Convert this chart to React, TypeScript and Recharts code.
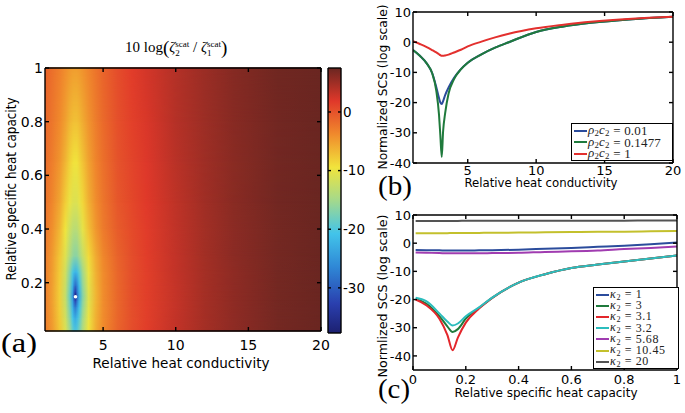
import React from 'react';
import { ComposedChart, LineChart, Line, XAxis, YAxis, ReferenceArea, Scatter, Legend } from 'recharts';

const PAGE_W = 685;
const PAGE_H = 413;
const SANS = '"DejaVu Sans", "Liberation Sans", sans-serif';
const SERIF = '"Liberation Serif", "DejaVu Serif", serif';

/* ---------------- (a) map: 10 log(z2/z1) over (kappa, rho c) ---------------- */
const mapKappa = [1, 1.5, 2, 2.4, 2.7, 2.9, 3.0, 3.1, 3.2, 3.35, 3.6, 4, 4.5, 5, 6, 7, 8, 10, 12, 14, 17, 20];
const mapRhoC = [0.02, 0.07, 0.11, 0.135, 0.15, 0.165, 0.19, 0.24, 0.3, 0.4, 0.5, 0.65, 0.8, 1.0];
const mapAt002 = [-2.8, -4.8, -7.5, -11, -15, -18.5, -19.8, -20, -19.6, -17.5, -14, -9.5, -6, -3.8, -1.2, 0.4, 1.5, 3.3, 4.7, 5.8, 7.0, 8.0];
const mapAt007 = [-2.9, -5, -7.8, -11.8, -16.5, -20.5, -22.5, -23, -22, -19.5, -15, -10, -6.2, -3.9, -1.3, 0.3, 1.4, 3.3, 4.7, 5.8, 7.0, 8.0];
const mapAt011 = [-2.9, -5.1, -8, -12.3, -17.5, -22.5, -26.5, -27.5, -25.5, -21, -16, -10.5, -6.4, -4.0, -1.4, 0.3, 1.4, 3.2, 4.7, 5.8, 7.0, 8.0];
const mapAt0135 = [-3, -5.2, -8.1, -12.5, -18, -24, -30, -32.5, -28.5, -22.5, -16.5, -10.7, -6.5, -4.0, -1.4, 0.3, 1.4, 3.2, 4.7, 5.8, 7.0, 8.0];
const mapAt015 = [-3, -5.2, -8.1, -12.6, -18.3, -25, -31.5, -37.5, -29.5, -23, -16.8, -10.8, -6.5, -4.0, -1.4, 0.3, 1.4, 3.2, 4.7, 5.8, 7.0, 8.0];
const mapAt0165 = [-3, -5.2, -8.1, -12.5, -18, -24, -30.5, -33, -28.5, -22.5, -16.5, -10.7, -6.5, -4.0, -1.4, 0.3, 1.4, 3.2, 4.7, 5.8, 7.0, 8.0];
const mapAt019 = [-2.9, -5.1, -8, -12.3, -17.5, -22.5, -27, -28.5, -26.8, -21.5, -16, -10.5, -6.4, -4.0, -1.4, 0.3, 1.4, 3.2, 4.7, 5.8, 7.0, 8.0];
const mapAt024 = [-2.9, -5, -7.8, -11.8, -16.5, -20, -21.5, -22, -21.5, -19, -15, -10, -6.2, -3.9, -1.3, 0.3, 1.4, 3.3, 4.7, 5.8, 7.0, 8.0];
const mapAt030 = [-2.8, -4.8, -7.5, -10.8, -14, -15.8, -16.4, -16.5, -16.4, -15, -12.5, -8.8, -5.8, -3.6, -1.1, 0.4, 1.5, 3.3, 4.8, 5.9, 7.0, 8.0];
const mapAt040 = [-2.4, -4.2, -6.5, -9.5, -12, -13.2, -13.5, -13.5, -13.4, -12.3, -10.2, -7.2, -4.6, -2.8, -0.6, 0.6, 1.6, 3.4, 4.8, 5.9, 7.0, 8.0];
const mapAt050 = [-2.1, -3.6, -5.5, -8, -10, -10.8, -11, -11, -11, -10.2, -8.6, -6.2, -4, -2.4, -0.3, 0.8, 1.8, 3.5, 4.9, 6.0, 7.1, 8.0];
const mapAt065 = [-1.7, -3, -4.5, -6.5, -8.2, -9, -9.3, -9.3, -9.3, -8.6, -7.3, -5.3, -3.4, -2, 0, 1.0, 2.0, 3.7, 5.0, 6.0, 7.1, 8.0];
const mapAt080 = [-1.4, -2.5, -3.7, -5.2, -6.5, -7, -7.2, -7.2, -7.2, -6.8, -5.9, -4.4, -2.9, -1.6, 0.2, 1.3, 2.2, 3.9, 5.1, 6.1, 7.1, 8.0];
const mapAt100 = [-1, -2, -3, -4, -4.6, -4.9, -5, -5, -5, -4.8, -4.3, -3.4, -2.3, -1.2, 0.4, 1.6, 2.5, 4.0, 5.2, 6.2, 7.2, 8.0];
const mapGrid = [mapAt002, mapAt007, mapAt011, mapAt0135, mapAt015, mapAt0165, mapAt019, mapAt024, mapAt030, mapAt040, mapAt050, mapAt065, mapAt080, mapAt100];
const mapKappaRange = [1, 20];
const mapRhoRange = [0.02, 1];
const mapKappaTicks = [5, 10, 15, 20];
const mapRhoTicks = [0.2, 0.4, 0.6, 0.8, 1];
const optimumPoint = [{ k: 3.1, rc: 0.1477 }];

/* ---------------- colour bar ---------------- */
const colorLimits = [-37.7, 7.5];
const colorTicks = [-30, -20, -10, 0];

/* ---------------- (b) SCS vs relative heat conductivity ---------------- */
const condKappa = [1, 1.5, 2, 2.4, 2.7, 2.9, 3.0, 3.1, 3.2, 3.35, 3.6, 4, 4.5, 5, 6, 7, 8, 10, 12, 14, 17, 20];
const scsRho001 = [-2.6, -4.5, -7, -10.2, -14.8, -18.5, -20, -20.5, -19.5, -17.5, -15, -11.8, -8.9, -6.8, -4, -1.8, 0, 3.4, 5.2, 6.4, 7.6, 8.4];
const scsRho01477 = [-2.6, -4.5, -7, -10.3, -16, -24, -31, -38, -29.5, -23.5, -17, -12.2, -9, -6.8, -4, -1.8, 0, 3.4, 5.2, 6.4, 7.6, 8.4];
const scsRho1 = [0.3, -0.6, -1.6, -2.6, -3.4, -4, -4.3, -4.5, -4.5, -4.4, -4.1, -3.4, -2.5, -1.4, 0.2, 1.6, 2.8, 4.6, 5.8, 6.8, 7.8, 8.4];
const condTicks = [5, 10, 15, 20];
const condRange = [1, 20];
const scsTicks = [-40, -30, -20, -10, 0, 10];
const condScsRange = [-40, 10];
const condLegend = ['0.01', '0.1477', '1'];

/* ---------------- (c) SCS vs relative specific heat capacity ---------------- */
const capRhoC = [0.01, 0.05, 0.1, 0.13, 0.15, 0.17, 0.2, 0.25, 0.3, 0.4, 0.5, 0.6, 0.7, 0.8, 0.9, 1.0];
const scsK1 = [-2.4, -2.5, -2.55, -2.6, -2.6, -2.6, -2.6, -2.55, -2.5, -2.3, -2.0, -1.7, -1.3, -0.9, -0.4, 0.2];
const scsK3 = [-19.8, -21.4, -25.9, -29.5, -31.5, -30.5, -26.8, -23, -19.4, -14, -11, -8.8, -7.6, -6.5, -5.4, -4.4];
const scsK31 = [-20, -22, -26.8, -32.5, -38, -33.5, -28.2, -23.2, -19.4, -14, -11, -8.8, -7.6, -6.5, -5.4, -4.4];
const scsK32 = [-19.4, -20.6, -24.9, -27.8, -29.2, -28.5, -25.9, -22.8, -19.3, -14, -11, -8.8, -7.6, -6.5, -5.4, -4.4];
const scsK568 = [-3.3, -3.4, -3.5, -3.6, -3.6, -3.6, -3.6, -3.6, -3.5, -3.4, -3.1, -2.9, -2.6, -2.1, -1.7, -1.2];
const scsK1045 = [3.5, 3.5, 3.55, 3.55, 3.6, 3.6, 3.6, 3.65, 3.7, 3.75, 3.85, 3.95, 4.05, 4.1, 4.2, 4.3];
const scsK20 = [7.9, 7.9, 7.9, 7.9, 7.9, 7.9, 7.95, 7.95, 7.95, 8.0, 8.0, 8.0, 8.0, 8.0, 8.05, 8.05];
const capTicks = [0, 0.2, 0.4, 0.6, 0.8, 1];
const capRange = [0, 1];
const capScsRange = [-45, 10];
const capLegend = ['1', '3', '3.1', '3.2', '5.68', '10.45', '20'];

/* ---------------- styles ---------------- */
const B_COLORS = ['#2b4c9c', '#1f7a3c', '#e3302e'];
const C_COLORS = ['#2b4c9c', '#1f7a3c', '#e3262b', '#2bbdbd', '#a03cb0', '#c3c02c', '#545454'];
const JET: [number, string][] = [
  [0, '#1c2070'], [0.11, '#2a3fae'], [0.25, '#2f88d6'], [0.375, '#42c4ea'],
  [0.5, '#a4d98c'], [0.625, '#f1e43c'], [0.75, '#f08a2c'], [0.875, '#e0382a'], [1, '#6a2621'],
];

function hexRgb(h: string) {
  return [1, 3, 5].map((i) => parseInt(h.slice(i, i + 2), 16));
}
function jetColor(v: number) {
  const [lo, hi] = colorLimits;
  const t = Math.min(1, Math.max(0, (v - lo) / (hi - lo)));
  for (let i = 0; i < JET.length - 1; i++) {
    const [t0, c0] = JET[i];
    const [t1, c1] = JET[i + 1];
    if (t <= t1) {
      const f = (t - t0) / (t1 - t0);
      const a = hexRgb(c0);
      const b = hexRgb(c1);
      return `rgb(${a.map((x, k) => Math.round(x + (b[k] - x) * f)).join(',')})`;
    }
  }
  return JET[JET.length - 1][1];
}

const noTick = () => <g />;
const tickFont = (size: number) => ({ fill: '#000', fontSize: size, fontFamily: SANS });
const AX = { stroke: '#000', strokeWidth: 1.4 };

const layer: React.CSSProperties = { position: 'absolute', left: 0, top: 0, width: PAGE_W, height: PAGE_H };

function Sub({ children }: { children: React.ReactNode }) {
  return <span style={{ fontSize: '0.68em', position: 'relative', top: '0.28em', fontStyle: 'normal' }}>{children}</span>;
}

function LegendBox({ items, colors, symbol, width, height, lineH, fontSize, spacing }: any) {
  return (
    <div
      style={{
        width, height, boxSizing: 'border-box', border: '1.5px solid #000', background: '#fff',
        paddingTop: 1, paddingLeft: 2, fontFamily: SERIF, fontSize, lineHeight: `${lineH}px`,
        letterSpacing: spacing, whiteSpace: 'nowrap', overflow: 'visible', color: '#222',
      }}
    >
      {items.map((lab: string, i: number) => (
        <div key={lab} style={{ display: 'flex', alignItems: 'center', height: lineH }}>
          <span style={{ display: 'inline-block', width: 13, height: 2, background: colors[i], marginRight: 1 }} />
          {symbol}
          <span>&nbsp;=&nbsp;{lab}</span>
        </div>
      ))}
    </div>
  );
}

const rhoSym = (
  <span>
    <i>ρ</i><Sub>2</Sub><i>c</i><Sub>2</Sub>
  </span>
);
const kappaSym = (
  <span>
    <i>κ</i><Sub>2</Sub>
  </span>
);

function HeatMap() {
  const kSpan = mapKappaRange[1] - mapKappaRange[0];
  const bands = mapRhoC.slice(0, -1).map((rc, j) => ({ lo: rc, hi: mapRhoC[j + 1], j }));
  return (
    <ComposedChart width={PAGE_W} height={PAGE_H} data={optimumPoint} margin={{ top: 67, right: 363, bottom: 81, left: 44 }}>
      <defs>
        {mapGrid.map((row, j) => (
          <linearGradient key={j} id={`mapRow${j}`} x1="0" y1="0" x2="1" y2="0">
            {row.map((v, i) => (
              <stop key={i} offset={(mapKappa[i] - mapKappaRange[0]) / kSpan} stopColor={jetColor(v)} />
            ))}
          </linearGradient>
        ))}
        <linearGradient id="mapFade" x1="0" y1="0" x2="0" y2="1">
          <stop offset="0" stopColor="#fff" stopOpacity={1} />
          <stop offset="1" stopColor="#fff" stopOpacity={0} />
        </linearGradient>
        <mask id="mapFadeMask" maskContentUnits="objectBoundingBox">
          <rect x="0" y="0" width="1" height="1" fill="url(#mapFade)" />
        </mask>
      </defs>
      {bands.map((b) => (
        <ReferenceArea
          key={b.j}
          xAxisId="kb"
          yAxisId="rl"
          x1={mapKappaRange[0]}
          x2={mapKappaRange[1]}
          y1={b.lo}
          y2={b.hi}
          shape={(p: any) => (
            <g>
              <rect x={p.x} y={p.y - 0.5} width={p.width} height={p.height + 1} fill={`url(#mapRow${b.j})`} />
              <rect x={p.x} y={p.y - 0.5} width={p.width} height={p.height + 1} fill={`url(#mapRow${b.j + 1})`} mask="url(#mapFadeMask)" />
            </g>
          )}
        />
      ))}
      <Scatter
        xAxisId="kb"
        yAxisId="rl"
        data={optimumPoint}
        dataKey="rc"
        isAnimationActive={false}
        shape={(p: any) => <circle cx={p.cx} cy={p.cy} r={1.8} fill="#fff" />}
      />
      <XAxis xAxisId="kb" dataKey="k" type="number" domain={mapKappaRange} ticks={mapKappaTicks} allowDataOverflow interval={0}
        height={1} {...AX} tickSize={-4} tickMargin={13} tick={tickFont(14)} />
      <XAxis xAxisId="kt" orientation="top" dataKey="k" type="number" domain={mapKappaRange} ticks={mapKappaTicks} allowDataOverflow interval={0}
        height={1} {...AX} tickSize={-4} tick={noTick} />
      <YAxis yAxisId="rl" dataKey="rc" type="number" domain={mapRhoRange} ticks={mapRhoTicks} allowDataOverflow interval={0}
        width={1} {...AX} tickSize={-4} tickMargin={6} tick={tickFont(14)} />
      <YAxis yAxisId="rr" orientation="right" dataKey="rc" type="number" domain={mapRhoRange} ticks={mapRhoTicks} allowDataOverflow interval={0}
        width={1} {...AX} tickSize={-4} tick={noTick} />
    </ComposedChart>
  );
}

function ColorBar() {
  const data = colorTicks.map((v) => ({ v }));
  return (
    <ComposedChart width={PAGE_W} height={PAGE_H} data={data} margin={{ top: 67, right: 343, bottom: 79, left: 327 }}>
      <defs>
        <linearGradient id="cbarGrad" x1="0" y1="0" x2="0" y2="1">
          {JET.slice().reverse().map(([t, c]) => (
            <stop key={t} offset={1 - t} stopColor={c} />
          ))}
        </linearGradient>
      </defs>
      <ReferenceArea xAxisId="cb" yAxisId="cl" y1={colorLimits[0]} y2={colorLimits[1]} fill="url(#cbarGrad)" fillOpacity={1} stroke="none" />
      <XAxis xAxisId="cb" height={1} {...AX} tick={false} tickLine={false} />
      <XAxis xAxisId="ct" orientation="top" height={1} {...AX} tick={false} tickLine={false} />
      <YAxis yAxisId="cl" dataKey="v" type="number" domain={colorLimits} ticks={colorTicks} allowDataOverflow interval={0}
        width={1} {...AX} tickSize={-3} tick={noTick} />
      <YAxis yAxisId="cr" orientation="right" dataKey="v" type="number" domain={colorLimits} ticks={colorTicks} allowDataOverflow interval={0}
        width={1} {...AX} tickSize={-3} tickMargin={5} tick={tickFont(13.5)} />
    </ComposedChart>
  );
}

function CondPanel() {
  const data = condKappa.map((k, i) => ({ k, rho001: scsRho001[i], rho01477: scsRho01477[i], rho1: scsRho1[i] }));
  const keys = ['rho001', 'rho01477', 'rho1'];
  return (
    <LineChart width={PAGE_W} height={PAGE_H} data={data} margin={{ top: 11, right: 11, bottom: 249, left: 412 }}>
      <XAxis dataKey="k" type="number" domain={condRange} ticks={condTicks} allowDataOverflow interval={0}
        height={1} {...AX} tickSize={-4} tickMargin={7} tick={tickFont(13)} />
      <XAxis xAxisId="top" orientation="top" dataKey="k" type="number" domain={condRange} ticks={condTicks} allowDataOverflow interval={0}
        height={1} {...AX} tickSize={-4} tick={noTick} />
      <YAxis type="number" domain={condScsRange} ticks={scsTicks} allowDataOverflow interval={0}
        width={1} {...AX} tickSize={-4} tickMargin={6} tick={tickFont(13)} />
      <YAxis yAxisId="right" orientation="right" type="number" domain={condScsRange} ticks={scsTicks} allowDataOverflow interval={0}
        width={1} {...AX} tickSize={-4} tick={noTick} />
      {keys.map((key, i) => (
        <Line key={key} dataKey={key} type="monotone" stroke={B_COLORS[i]} strokeWidth={2} dot={false} isAnimationActive={false} />
      ))}
      <Legend
        layout="vertical"
        align="center"
        verticalAlign="middle"
        wrapperStyle={{ left: 571, top: 123, width: 102, height: 38 }}
        content={() => <LegendBox items={condLegend} colors={B_COLORS} symbol={rhoSym} width={102} height={38} lineH={11.5} fontSize={13} spacing="0.2px" />}
      />
    </LineChart>
  );
}

function CapPanel() {
  const data = capRhoC.map((rc, i) => ({
    rc, k1: scsK1[i], k3: scsK3[i], k31: scsK31[i], k32: scsK32[i], k568: scsK568[i], k1045: scsK1045[i], k20: scsK20[i],
  }));
  const keys = ['k1', 'k3', 'k31', 'k32', 'k568', 'k1045', 'k20'];
  return (
    <LineChart width={PAGE_W} height={PAGE_H} data={data} margin={{ top: 214, right: 7, bottom: 42, left: 412 }}>
      <XAxis dataKey="rc" type="number" domain={capRange} ticks={capTicks} allowDataOverflow interval={0}
        height={1} {...AX} tickSize={-4} tickMargin={9} tick={tickFont(13)} />
      <XAxis xAxisId="top" orientation="top" dataKey="rc" type="number" domain={capRange} ticks={capTicks} allowDataOverflow interval={0}
        height={1} {...AX} tickSize={-4} tick={noTick} />
      <YAxis type="number" domain={capScsRange} ticks={scsTicks} allowDataOverflow interval={0}
        width={1} {...AX} tickSize={-4} tickMargin={6} tick={tickFont(13)} />
      <YAxis yAxisId="right" orientation="right" type="number" domain={capScsRange} ticks={scsTicks} allowDataOverflow interval={0}
        width={1} {...AX} tickSize={-4} tick={noTick} />
      {keys.map((key, i) => (
        <Line key={key} dataKey={key} type="monotone" stroke={C_COLORS[i]} strokeWidth={2} dot={false} isAnimationActive={false} />
      ))}
      <Legend
        layout="vertical"
        align="center"
        verticalAlign="middle"
        wrapperStyle={{ left: 593, top: 287, width: 86, height: 82 }}
        content={() => <LegendBox items={capLegend} colors={C_COLORS} symbol={kappaSym} width={86} height={82} lineH={11.2} fontSize={12} spacing="0.6px" />}
      />
    </LineChart>
  );
}

function TextLayer() {
  return (
    <svg width={PAGE_W} height={PAGE_H} style={{ ...layer, pointerEvents: 'none' }}>
      <text x={125} y={52} fontFamily={SERIF} fontSize={15} fill="#000">
        <tspan>10 log</tspan>
        <tspan fontSize={19} dy={1.5}>(</tspan>
        <tspan fontStyle="italic" dy={-1.5}>ζ</tspan>
        <tspan fontSize={9} dy={-5.5}>scat</tspan>
        <tspan fontSize={9} dx={-14} dy={9}>2</tspan>
        <tspan dx={9.5} dy={-3.5}> / </tspan>
        <tspan fontStyle="italic">ζ</tspan>
        <tspan fontSize={9} dy={-5.5}>scat</tspan>
        <tspan fontSize={9} dx={-14} dy={9}>1</tspan>
        <tspan fontSize={19} dx={9.5} dy={-2}>)</tspan>
      </text>
      <text x={181} y={368} textAnchor="middle" fontFamily={SANS} fontSize={14} textLength={177} lengthAdjust="spacingAndGlyphs">Relative heat conductivity</text>
      <text transform="translate(16,189) rotate(-90)" textAnchor="middle" fontFamily={SANS} fontSize={14} textLength={183} lengthAdjust="spacingAndGlyphs">Relative specific heat capacity</text>
      <text x={541} y={187} textAnchor="middle" fontFamily={SANS} fontSize={12.5} textLength={153} lengthAdjust="spacingAndGlyphs">Relative heat conductivity</text>
      <text transform="translate(387,87) rotate(-90)" textAnchor="middle" fontFamily={SANS} fontSize={12.5} textLength={165} lengthAdjust="spacingAndGlyphs">Normalized SCS (log scale)</text>
      <text x={546} y={397} textAnchor="middle" fontFamily={SANS} fontSize={12.5} textLength={183} lengthAdjust="spacingAndGlyphs">Relative specific heat capacity</text>
      <text transform="translate(387,296) rotate(-90)" textAnchor="middle" fontFamily={SANS} fontSize={12.5} textLength={163} lengthAdjust="spacingAndGlyphs">Normlized SCS (log scale)</text>
      <text x={1} y={352} fontFamily={SERIF} fontSize={27} textLength={36} lengthAdjust="spacingAndGlyphs">(a)</text>
      <text x={378} y={195} fontFamily={SERIF} fontSize={27} textLength={34} lengthAdjust="spacingAndGlyphs">(b)</text>
      <text x={378} y={398} fontFamily={SERIF} fontSize={27} textLength={32} lengthAdjust="spacingAndGlyphs">(c)</text>
    </svg>
  );
}

export default function App() {
  return (
    <div style={{ position: 'absolute', left: 0, top: 0, width: PAGE_W, height: PAGE_H, background: '#fff', overflow: 'hidden' }}>
      <div style={layer}><HeatMap /></div>
      <div style={layer}><ColorBar /></div>
      <div style={layer}><CondPanel /></div>
      <div style={layer}><CapPanel /></div>
      <TextLayer />
    </div>
  );
}
